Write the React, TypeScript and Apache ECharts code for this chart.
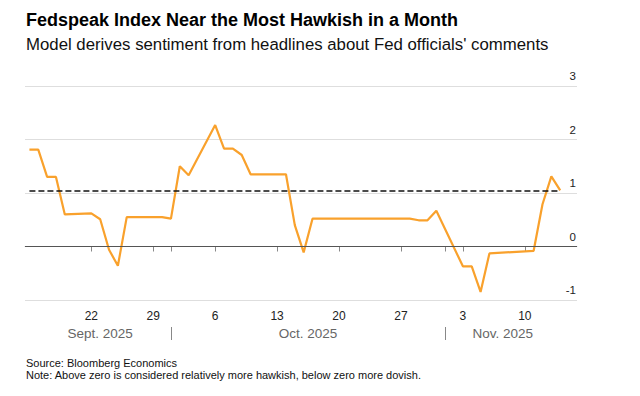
import React, { useEffect, useRef } from 'react';
import * as echarts from 'echarts';

// Fedspeak index readings (vertices)
const dates = [
  '2025-09-15', '2025-09-16', '2025-09-17', '2025-09-18', '2025-09-19',
  '2025-09-22', '2025-09-23', '2025-09-24', '2025-09-25', '2025-09-26',
  '2025-09-30', '2025-10-01', '2025-10-02', '2025-10-03', '2025-10-06',
  '2025-10-07', '2025-10-08', '2025-10-09', '2025-10-10', '2025-10-14',
  '2025-10-15', '2025-10-16', '2025-10-17', '2025-10-28', '2025-10-29',
  '2025-10-30', '2025-10-31', '2025-11-03', '2025-11-04', '2025-11-05',
  '2025-11-06', '2025-11-11', '2025-11-12', '2025-11-13', '2025-11-14',
];
const values = [
  1.81, 1.81, 1.30, 1.30, 0.60,
  0.62, 0.51, -0.06, -0.36, 0.55,
  0.55, 0.52, 1.50, 1.33, 2.27,
  1.83, 1.83, 1.71, 1.35, 1.35,
  0.40, -0.11, 0.52, 0.52, 0.49,
  0.49, 0.67, -0.37, -0.37, -0.85,
  -0.13, -0.08, 0.79, 1.31, 1.05,
];
const currentLevel = 1.05;

const dayTickDates = ['2025-09-22', '2025-09-29', '2025-10-06', '2025-10-13', '2025-10-20', '2025-10-27', '2025-11-03', '2025-11-10'];
const monthStartDates = ['2025-10-01', '2025-11-01'];
const monthNames = ['Sept. 2025', 'Oct. 2025', 'Nov. 2025'];
const monthSpanStart = ['2025-09-15', '2025-10-01', '2025-11-01'];
const monthSpanEnd = ['2025-10-01', '2025-11-01', '2025-11-14'];
const yTicks = [-1, 0, 1, 2, 3];

const title = 'Fedspeak Index Near the Most Hawkish in a Month';
const subtitle = "Model derives sentiment from headlines about Fed officials' comments";
const source = 'Source: Bloomberg Economics';
const note = 'Note: Above zero is considered relatively more hawkish, below zero more dovish.';

const t0 = Date.parse(dates[0] + 'T00:00:00Z');
const dayIdx = (s: string) => (Date.parse(s + 'T00:00:00Z') - t0) / 86400000;

export default function App() {
  const ref = useRef<HTMLDivElement>(null);
  useEffect(() => {
    document.body.style.margin = '0';
    const chart = echarts.init(ref.current!, null, { renderer: 'svg' });
    const dayTicks = dayTickDates.map(dayIdx);
    const monthTicks = monthStartDates.map(dayIdx);
    const monthCenters = monthNames.map((_, i) => (dayIdx(monthSpanStart[i]) + dayIdx(monthSpanEnd[i])) / 2);
    const lastIdx = dayIdx(dates[dates.length - 1]);
    const font = 'Liberation Sans, Arial, sans-serif';
    const xMin = -0.5;
    const xMax = 61.9;

    chart.setOption({
      animation: false,
      grid: { left: 25, right: 63, top: 86, bottom: 96, containLabel: false },
      graphic: [
        { type: 'text', x: 26, y: 20, style: { text: title, font: `bold 18px ${font}`, fill: '#000', verticalAlign: 'middle' } },
        { type: 'text', x: 26, y: 44, style: { text: subtitle, font: `16.8px ${font}`, fill: '#111', verticalAlign: 'middle' } },
        { type: 'text', x: 26, y: 362.7, style: { text: source, font: `11px ${font}`, fill: '#111', verticalAlign: 'middle' } },
        { type: 'text', x: 26, y: 374.8, style: { text: note, font: `11px ${font}`, fill: '#111', verticalAlign: 'middle' } },
      ],
      xAxis: [
        {
          type: 'value',
          min: xMin,
          max: xMax,
          axisLine: { show: true, lineStyle: { color: '#d4d4d4', width: 1 } },
          axisTick: { show: true, customValues: [...dayTicks, ...monthTicks], length: 5, lineStyle: { color: '#888' } },
          axisLabel: {
            customValues: dayTicks,
            formatter: (v: number) => String(new Date(t0 + Math.round(v) * 86400000).getUTCDate()),
            fontSize: 12,
            fontFamily: font,
            color: '#222',
            margin: 10,
          },
          splitLine: { show: false },
        },
        {
          type: 'value',
          position: 'bottom',
          offset: 27,
          min: xMin,
          max: xMax,
          axisLine: { show: false },
          axisTick: { show: true, customValues: monthTicks, length: 13, lineStyle: { color: '#888' } },
          axisLabel: {
            customValues: monthCenters,
            formatter: (v: number) => {
              let best = 0;
              monthCenters.forEach((c, i) => { if (Math.abs(c - v) < Math.abs(monthCenters[best] - v)) best = i; });
              return monthNames[best];
            },
            fontSize: 13.5,
            fontFamily: font,
            color: '#666',
            margin: 6.5,
            verticalAlign: 'middle',
          },
          splitLine: { show: false },
        },
      ],
      yAxis: {
        type: 'value',
        position: 'right',
        min: yTicks[0],
        max: yTicks[yTicks.length - 1],
        interval: 1,
        axisLine: { show: false },
        axisTick: { show: false },
        axisLabel: {
          inside: true,
          margin: 1,
          fontSize: 11.5,
          fontFamily: font,
          color: '#222',
          verticalAlign: 'bottom',
          padding: [0, 0, 4, 0],
        },
        splitLine: { show: true, lineStyle: { color: '#dedede', width: 1 } },
      },
      series: [
        {
          type: 'line',
          xAxisIndex: 0,
          data: dates.map((d, i) => [dayIdx(d), values[i]]),
          showSymbol: false,
          lineStyle: { color: '#F9A12C', width: 2.2 },
          z: 3,
          markLine: {
            silent: true,
            symbol: 'none',
            label: { show: false },
            data: [
              { yAxis: 0, lineStyle: { color: '#555', width: 1.2, type: 'solid' } },
              [
                { coord: [0, currentLevel], lineStyle: { color: '#111', width: 1.6, type: [6, 3] } },
                { coord: [lastIdx, currentLevel] },
              ],
            ],
          },
        },
      ],
    });
    return () => chart.dispose();
  }, []);
  return <div ref={ref} style={{ width: 640, height: 396 }} />;
}
